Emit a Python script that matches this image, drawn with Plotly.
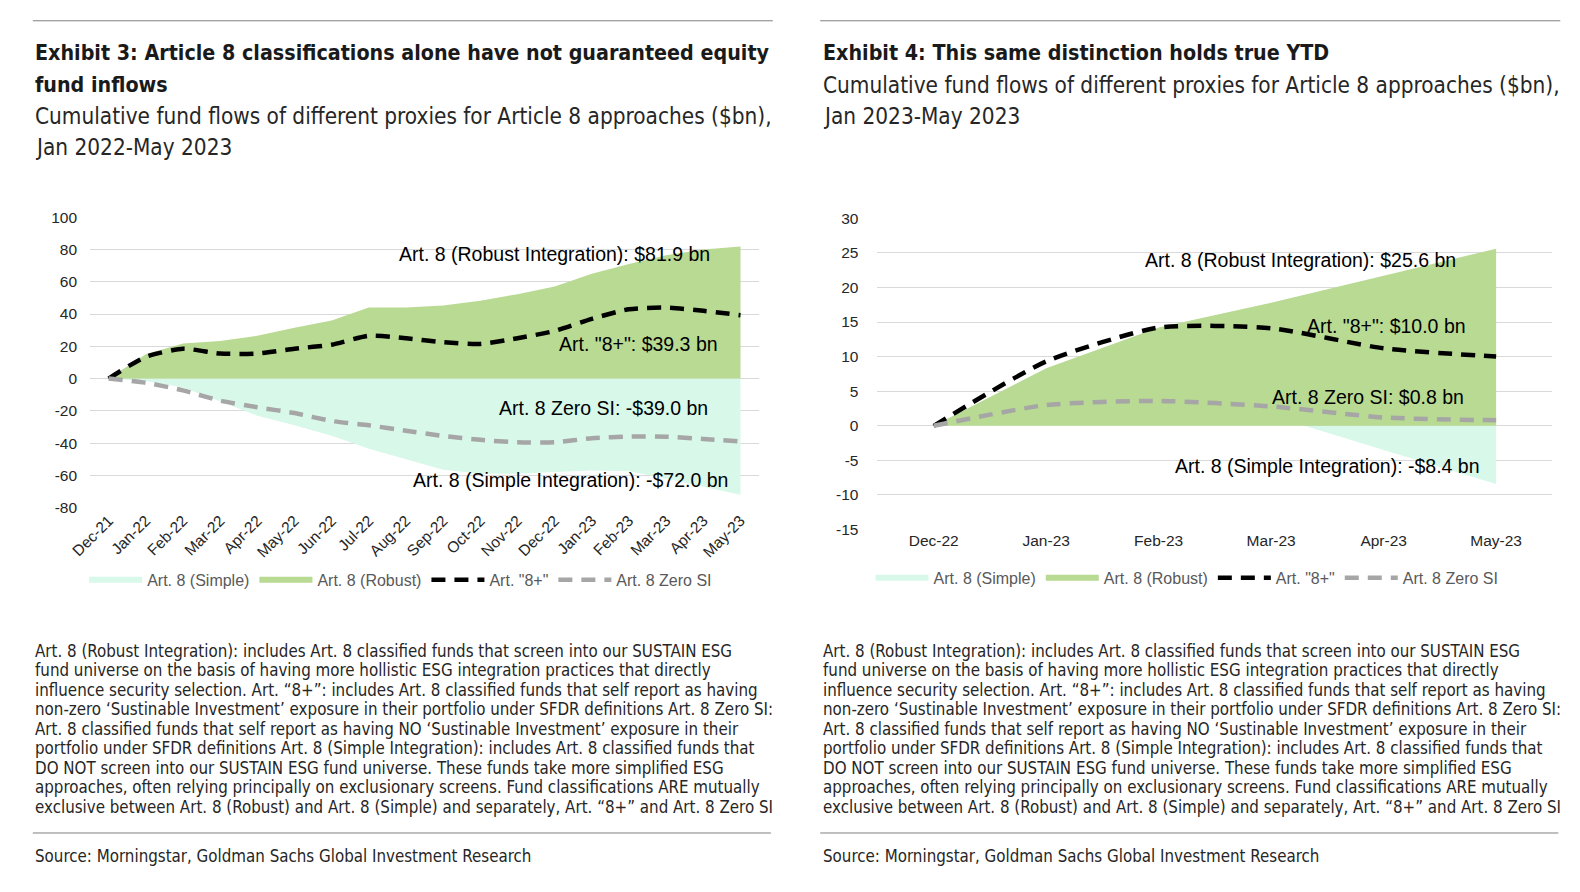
import plotly.graph_objects as go

# ---------------- data ----------------
cats_l = ["Dec-21", "Jan-22", "Feb-22", "Mar-22", "Apr-22", "May-22", "Jun-22", "Jul-22", "Aug-22",
          "Sep-22", "Oct-22", "Nov-22", "Dec-22", "Jan-23", "Feb-23", "Mar-23", "Apr-23", "May-23"]
simple_l = [0, -1.5, -5.5, -14, -23, -29, -35.5, -43.5, -50, -56.5, -59, -59, -58, -57, -57.5, -62, -67, -72.0]
robust_l = [0, 15, 21.8, 23.3, 26.5, 31.5, 36, 44, 44, 45.3, 48.3, 52.3, 57, 65, 71, 76.5, 80, 81.9]
plus_l = [0, 13.5, 18.5, 15.5, 15.5, 18.5, 21, 26.5, 25, 22.5, 21.5, 25, 29.5, 37, 43, 44, 42, 39.3]
zero_l = [0, -2.6, -7.3, -13.7, -17.8, -21.4, -26.3, -29, -32.3, -35.6, -38, -39.5, -39.5, -37, -36, -36, -37.4, -39.0]

cats_r = ["Dec-22", "Jan-23", "Feb-23", "Mar-23", "Apr-23", "May-23"]
simple_r = [0, 1.0, 2.0, 1.5, -3.5, -8.4]
robust_r = [0, 8.3, 14.2, 17.8, 21.7, 25.6]
plus_r = [0, 9.3, 14.2, 14.1, 11.2, 10.0]
zero_r = [0, 3.0, 3.6, 2.8, 1.2, 0.8]

yticks_l = [-80, -60, -40, -20, 0, 20, 40, 60, 80, 100]
yticks_r = [-15, -10, -5, 0, 5, 10, 15, 20, 25, 30]

names = ["Art. 8 (Simple)", "Art. 8 (Robust)", 'Art. "8+"', "Art. 8 Zero SI"]

labels_l = ["Art. 8 (Robust Integration): $81.9 bn", 'Art. "8+": $39.3 bn',
            "Art. 8 Zero SI: -$39.0 bn", "Art. 8 (Simple Integration): -$72.0 bn"]
labels_r = ["Art. 8 (Robust Integration): $25.6 bn", 'Art. "8+": $10.0 bn',
            "Art. 8 Zero SI: $0.8 bn", "Art. 8 (Simple Integration): -$8.4 bn"]

title_l = ["Exhibit 3: Article 8 classifications alone have not guaranteed equity", "fund inflows"]
sub_l = ["Cumulative fund flows of different proxies for Article 8 approaches ($bn),", "Jan 2022-May 2023"]
title_r = ["Exhibit 4: This same distinction holds true YTD"]
sub_r = ["Cumulative fund flows of different proxies for Article 8 approaches ($bn),", "Jan 2023-May 2023"]

notes = [
    "Art. 8 (Robust Integration): includes Art. 8 classified funds that screen into our SUSTAIN ESG",
    "fund universe on the basis of having more hollistic ESG integration practices that directly",
    "influence security selection. Art. \u201c8+\u201d: includes Art. 8 classified funds that self report as having",
    "non-zero \u2018Sustinable Investment\u2019 exposure in their portfolio under SFDR definitions Art. 8 Zero SI:",
    "Art. 8 classified funds that self report as having NO \u2018Sustinable Investment\u2019 exposure in their",
    "portfolio under SFDR definitions Art. 8 (Simple Integration): includes Art. 8 classified funds that",
    "DO NOT screen into our SUSTAIN ESG fund universe. These funds take more simplified ESG",
    "approaches, often relying principally on exclusionary screens. Fund classifications ARE mutually",
    "exclusive between Art. 8 (Robust) and Art. 8 (Simple) and separately, Art. \u201c8+\u201d and Art. 8 Zero SI",
]
source = "Source: Morningstar, Goldman Sachs Global Investment Research"

# ---------------- style ----------------
W, H = 1580, 892
COND = "'DejaVu Sans Condensed', 'Liberation Sans', sans-serif"
ARIAL = "'Liberation Sans', Arial, sans-serif"
MINT = "#D8F8EA"
GREEN = "#B8DA92"
GRID = "#D9D9D9"

def px(x):
    return x / W

def py(y):
    return 1 - y / H

fig = go.Figure()

def add_series(cats, simple, robust, plus, zero, xa, ya, leg):
    fig.add_trace(go.Scatter(x=cats, y=simple, name=names[0], mode="none", fill="tozeroy",
                             fillcolor=MINT, xaxis=xa, yaxis=ya, legend=leg))
    fig.add_trace(go.Scatter(x=cats, y=robust, name=names[1], mode="none", fill="tozeroy",
                             fillcolor=GREEN, xaxis=xa, yaxis=ya, legend=leg))
    fig.add_trace(go.Scatter(x=cats, y=plus, name=names[2], mode="lines",
                             line=dict(color="#000000", width=4.5, dash="14px,9px", shape="spline", smoothing=0.6),
                             xaxis=xa, yaxis=ya, legend=leg))
    fig.add_trace(go.Scatter(x=cats, y=zero, name=names[3], mode="lines",
                             line=dict(color="#A6A6A6", width=4.5, dash="14px,9px", shape="spline", smoothing=0.6),
                             xaxis=xa, yaxis=ya, legend=leg))

add_series(cats_l, simple_l, robust_l, plus_l, zero_l, "x", "y", "legend")
add_series(cats_r, simple_r, robust_r, plus_r, zero_r, "x2", "y2", "legend2")

# plot areas (pixels)
L = dict(x0=70, x1=748, top=212.3, bot=508.3, zero=377.3)
R = dict(x0=868, x1=1552, top=213.3, bot=530.7, zero=425.0)

tickfont = dict(family=ARIAL, size=15.5, color="#262626")

fig.update_layout(
    autosize=True, margin=dict(l=0, r=0, t=0, b=0),
    paper_bgcolor="white", plot_bgcolor="white", showlegend=True,
    xaxis=dict(domain=[px(L["x0"]), px(L["x1"])], anchor="y", type="category",
               showgrid=False, showline=False, ticks="", tickangle=-45, tickfont=tickfont,
               range=[-0.5, 17.5]),
    yaxis=dict(domain=[py(L["bot"]), py(L["top"])], anchor="x", range=[-80, 100],
               tickvals=yticks_l, ticktext=[str(v) for v in yticks_l],
               gridcolor=GRID, gridwidth=1, zeroline=False, showline=False, ticks="",
               tickfont=tickfont, ticklabelstandoff=12),
    xaxis3=dict(overlaying="x", anchor="free", position=py(L["zero"]), type="linear",
                range=[-0.5, 17.5], tickvals=[i - 0.5 for i in range(19)], ticks="outside",
                ticklen=5, tickcolor=GRID, showline=True, linecolor=GRID, linewidth=1,
                showticklabels=False, showgrid=False, zeroline=False),
    xaxis2=dict(domain=[px(R["x0"]), px(R["x1"])], anchor="y2", type="category",
                showgrid=False, showline=False, ticks="", tickangle=0, tickfont=tickfont,
                range=[-0.5, 5.5]),
    yaxis2=dict(domain=[py(R["bot"]), py(R["top"])], anchor="x2", range=[-15, 30],
                tickvals=yticks_r, ticktext=[str(v) for v in yticks_r],
                gridcolor=GRID, gridwidth=1, zeroline=False, showline=False, ticks="",
                tickfont=tickfont, ticklabelstandoff=18),
    xaxis4=dict(overlaying="x2", anchor="free", position=py(R["zero"]), type="linear",
                range=[-0.5, 5.5], tickvals=[i - 0.5 for i in range(7)], ticks="outside",
                ticklen=5, tickcolor=GRID, showline=True, linecolor=GRID, linewidth=1,
                showticklabels=False, showgrid=False, zeroline=False),
    legend=dict(orientation="h", x=px(64), y=py(582), xanchor="left", yanchor="middle",
                font=dict(family=ARIAL, size=16, color="#595959"), itemwidth=53,
                bgcolor="rgba(0,0,0,0)", traceorder="normal"),
    legend2=dict(orientation="h", x=px(861), y=py(580), xanchor="left", yanchor="middle",
                 font=dict(family=ARIAL, size=16, color="#595959"), itemwidth=53,
                 bgcolor="rgba(0,0,0,0)", traceorder="normal"),
)

ann = []

def text(x, y, s, size, family, color="#1a1a1a", anchor="left", bold=False):
    ann.append(dict(x=px(x), y=py(y), xref="paper", yref="paper", text=("<b>%s</b>" % s) if bold else s,
                    showarrow=False, xanchor=anchor, yanchor="middle", align=anchor,
                    font=dict(family=family, size=size, color=color)))

# titles
for i, s in enumerate(title_l):
    text(12, 44 + 33 * i, s, 21.3, COND, "#1a1a1a", bold=True)
for i, s in enumerate(sub_l):
    text(12, 109 + 32 * i, s, 22.4, COND, "#262626")
for i, s in enumerate(title_r):
    text(811, 44 + 33 * i, s, 21.3, COND, "#1a1a1a", bold=True)
for i, s in enumerate(sub_r):
    text(811, 77 + 32 * i, s, 22.4, COND, "#262626")

# in-chart labels
pos_l = [(700, 250), (708, 342), (698, 407), (719, 480)]
pos_r = [(1456, 256), (1466, 323), (1464, 396), (1481, 466)]
for s, (x, y) in zip(labels_l, pos_l):
    text(x, y, s, 19.5, ARIAL, "#000000", anchor="right")
for s, (x, y) in zip(labels_r, pos_r):
    text(x, y, s, 19.5, ARIAL, "#000000", anchor="right")

# notes
for x0 in (12, 811):
    for i, s in enumerate(notes):
        text(x0, 654 + 19.9 * i, s, 16.8, COND, "#262626")
    text(x0, 863, source, 16.8, COND, "#262626")

fig.update_layout(annotations=ann)

shapes = []
for (a, b) in ((12, 762), (810, 1560)):
    shapes.append(dict(type="line", xref="paper", yref="paper", x0=px(a), x1=px(b), y0=py(12), y1=py(12),
                       line=dict(color="#808080", width=1)))
for (a, b) in ((12, 760), (810, 1558)):
    shapes.append(dict(type="line", xref="paper", yref="paper", x0=px(a), x1=px(b), y0=py(840), y1=py(840),
                       line=dict(color="#808080", width=1)))
fig.update_layout(shapes=shapes)

post = ("document.body.style.margin='0';document.body.style.padding='0';"
        "document.documentElement.style.overflow='hidden';document.body.style.overflow='hidden';")
fig.write_html("out.html", post_script=post, default_width="100vw", default_height="100vh",
               config={"displayModeBar": False})
